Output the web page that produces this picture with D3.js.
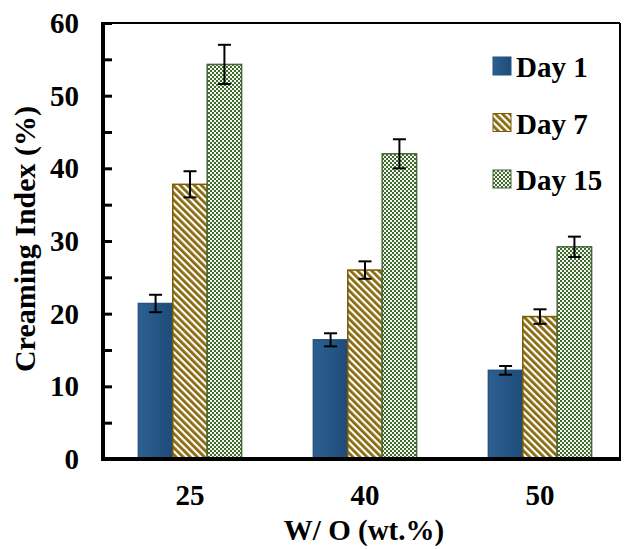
<html>
<head>
<meta charset="utf-8">
<title>Creaming Index</title>
<script src="https://cdn.jsdelivr.net/npm/d3@7/dist/d3.min.js"></script>
<style>
* { margin: 0; padding: 0; }
body { background: #fff; }
text { font-family: "Liberation Serif", "Times New Roman", serif; font-weight: bold; fill: #000; }
</style>
</head>
<body>
<div id="chart"></div>
<script>
// W/O ratio groups and creaming index per storage day
var ratios = ["25", "40", "50"];
var days = ["Day 1", "Day 7", "Day 15"];
var day1 = [21.4, 16.4, 12.2];
var day7 = [37.8, 26.0, 19.6];
var day15 = [54.3, 42.0, 29.2];
var err1 = [1.2, 0.9, 0.6];
var err7 = [1.8, 1.2, 1.0];
var err15 = [2.7, 2.0, 1.4];
var yTicks = [0, 10, 20, 30, 40, 50, 60];
var yMinorTicks = [5, 15, 25, 35, 45, 55];

var W = 625, H = 549;
var pLeft = 103, pRight = 620, pTop = 23, pBottom = 459;

var svg = d3.select("#chart").append("svg")
  .attr("width", W).attr("height", H);

var defs = svg.append("defs");

// Day 1: blue with slight bevel shading
var g1 = defs.append("linearGradient").attr("id", "blueFill")
  .attr("x1", 0).attr("x2", 1).attr("y1", 0).attr("y2", 0);
g1.append("stop").attr("offset", "0").attr("stop-color", "#2d5f92");
g1.append("stop").attr("offset", "0.5").attr("stop-color", "#255685");
g1.append("stop").attr("offset", "1").attr("stop-color", "#1f4b78");

// Day 7: gold diagonal stripes
var p7 = defs.append("pattern").attr("id", "stripes")
  .attr("patternUnits", "userSpaceOnUse")
  .attr("width", 5).attr("height", 5)
  .attr("patternTransform", "rotate(-45)");
p7.append("rect").attr("width", 5).attr("height", 5).attr("fill", "#fff");
p7.append("rect").attr("width", 2.8).attr("height", 5).attr("fill", "#8a6a0e");

// Day 15: green checker dots
var p15 = defs.append("pattern").attr("id", "checks")
  .attr("patternUnits", "userSpaceOnUse")
  .attr("width", 4).attr("height", 4);
p15.append("rect").attr("width", 4).attr("height", 4).attr("fill", "#f4f6f0");
p15.append("rect").attr("width", 2).attr("height", 2).attr("fill", "#3f6a2e");
p15.append("rect").attr("x", 2).attr("y", 2).attr("width", 2).attr("height", 2).attr("fill", "#3f6a2e");

var fills = ["url(#blueFill)", "url(#stripes)", "url(#checks)"];
var strokes = ["#24537f", "#7a5a05", "#46683a"];

var y = d3.scaleLinear().domain([0, 60]).range([pBottom, pTop]);
var x0 = d3.scaleBand().domain(ratios).range([102.5, 627.5])
  .paddingInner(0.41).paddingOuter(0.205);
var x1 = d3.scaleBand().domain(days).range([0, x0.bandwidth()]);

var series = [day1, day7, day15];
var errs = [err1, err7, err15];

var rows = [];
ratios.forEach(function(r, i) {
  days.forEach(function(d, j) {
    rows.push({ ratio: r, day: d, k: j, value: series[j][i], err: errs[j][i] });
  });
});

// bars
svg.append("g").selectAll("rect").data(rows).enter().append("rect")
  .attr("x", function(d) { return x0(d.ratio) + x1(d.day); })
  .attr("y", function(d) { return y(d.value); })
  .attr("width", x1.bandwidth())
  .attr("height", function(d) { return y(0) - y(d.value); })
  .attr("fill", function(d) { return fills[d.k]; })
  .attr("stroke", function(d) { return strokes[d.k]; })
  .attr("stroke-width", 1.5);

// error bars
var eb = svg.append("g").attr("stroke", "#000").attr("stroke-width", 2);
rows.forEach(function(d) {
  var cx = x0(d.ratio) + x1(d.day) + x1.bandwidth() / 2;
  var yt = y(d.value + d.err), yb = y(d.value - d.err);
  eb.append("line").attr("x1", cx).attr("x2", cx).attr("y1", yt).attr("y2", yb);
  eb.append("line").attr("x1", cx - 6.5).attr("x2", cx + 6.5).attr("y1", yt).attr("y2", yt);
  eb.append("line").attr("x1", cx - 6.5).attr("x2", cx + 6.5).attr("y1", yb).attr("y2", yb);
});

// frame (thin top/right)
svg.append("line").attr("x1", pLeft).attr("x2", pRight).attr("y1", pTop).attr("y2", pTop)
  .attr("stroke", "#000").attr("stroke-width", 2);
svg.append("line").attr("x1", pRight).attr("x2", pRight).attr("y1", pTop).attr("y2", pBottom)
  .attr("stroke", "#000").attr("stroke-width", 2);

// y axis with inward ticks
var yAxis = svg.append("g").attr("transform", "translate(" + pLeft + ",0)")
  .call(d3.axisRight(y).tickValues(yTicks.concat(yMinorTicks)).tickSize(9).tickFormat(""));
yAxis.select(".domain").remove();
yAxis.selectAll("line").attr("stroke", "#000").attr("stroke-width", 3);
svg.append("line").attr("x1", pLeft).attr("x2", pLeft).attr("y1", pTop - 1).attr("y2", pBottom + 2)
  .attr("stroke", "#000").attr("stroke-width", 4);

svg.append("g").selectAll("text").data(yTicks).enter().append("text")
  .attr("x", 79).attr("y", function(d) { return y(d) + 10; })
  .attr("text-anchor", "end").style("font-size", "29px")
  .text(function(d) { return d; });

// x axis
svg.append("line").attr("x1", pLeft - 2).attr("x2", pRight + 1).attr("y1", pBottom).attr("y2", pBottom)
  .attr("stroke", "#000").attr("stroke-width", 4);
svg.append("g").selectAll("text").data(ratios).enter().append("text")
  .attr("x", function(d) { return x0(d) + x0.bandwidth() / 2; })
  .attr("y", 505).attr("text-anchor", "middle").style("font-size", "29px")
  .text(function(d) { return d; });

// titles
svg.append("text").attr("x", 364).attr("y", 540).attr("text-anchor", "middle")
  .style("font-size", "29px").text("W/ O (wt.%)");
svg.append("text").attr("transform", "translate(35,239) rotate(-90)")
  .attr("text-anchor", "middle").style("font-size", "30px").text("Creaming Index (%)");

// legend
var lg = svg.append("g").selectAll("g").data(days).enter().append("g")
  .attr("transform", function(d, i) { return "translate(493," + (57 + i * 56.5) + ")"; });
lg.append("rect").attr("width", 18).attr("height", 18)
  .attr("fill", function(d, i) { return fills[i]; })
  .attr("stroke", function(d, i) { return strokes[i]; }).attr("stroke-width", 1);
lg.append("text").attr("x", 23).attr("y", 20).style("font-size", "29px")
  .text(function(d) { return d; });
</script>
</body>
</html>
